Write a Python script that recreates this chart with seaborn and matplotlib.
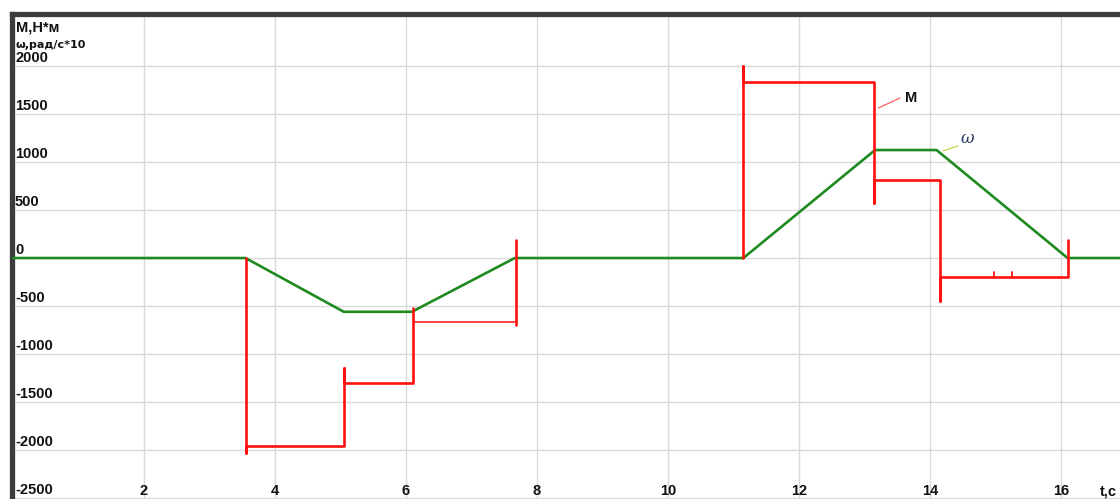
import matplotlib
matplotlib.use("Agg")
import matplotlib.pyplot as plt
import matplotlib.transforms as mtransforms
import pandas as pd
import seaborn as sns

# Angular speed ω (rad/s * 10) versus time t (s)
omega_t = [0.0, 3.55, 5.05, 6.09, 7.66, 11.15, 13.16, 14.10, 16.10, 16.90]
omega_v = [0, 0, -560, -560, 0, 0, 1125, 1125, 0, 0]

# Motor torque M (N*m): step profile, switching spikes included
m_brake_t = [3.55, 3.55, 3.55, 5.05, 5.05, 5.05, 5.05, 6.10, 6.10, 6.10]
m_brake_v = [0, -2030, -1960, -1960, -1960, -1146, -1302, -1302, -1302, -520]
m_low_t = [6.10, 7.68]
m_low_v = [-667, -667]
m_stop_t = [7.68, 7.68]
m_stop_v = [-698, 188]
m_run_t = [11.15, 11.15, 11.15, 13.15, 13.15, 13.15, 13.15, 14.15, 14.15,
           14.15, 14.15, 16.10, 16.10, 16.10]
m_run_v = [0, 2000, 1833, 1833, 1833, 573, 812, 812, 812, -448, -198, -198,
           -198, 188]
m_tick_t = [14.98, 15.25]
m_tick_lo = [-198, -198]
m_tick_hi = [-146, -146]

x_ticks = [2, 4, 6, 8, 10, 12, 14, 16]
y_ticks = [2000, 1500, 1000, 500, 0, -500, -1000, -1500, -2000, -2500]

sns.set_theme(style="white")
plt.rcParams["font.family"] = ["Liberation Sans", "DejaVu Sans"]

W, H = 1120, 499
fig = plt.figure(figsize=(W / 100, H / 100), dpi=100)
ax = fig.add_axes([12 / W, 0, 1 - 12 / W, (H - 14) / H])

ax.set_xlim(-0.015, 16.90)
ax.set_ylim(-2510, 2542)

# grid
for xv in x_ticks:
    ax.axvline(xv, color="#d9d9d9", lw=1.0, zorder=0)
for yv in y_ticks:
    ax.axhline(yv, color="#d9d9d9", lw=1.0, zorder=0)

green = "#1f8a1f"
red = "#ff1010"

sns.lineplot(x=omega_t, y=omega_v, sort=False, estimator=None, color=green,
             lw=1.9, ax=ax, zorder=3)
for tt, vv, w in [(m_brake_t, m_brake_v, 1.9), (m_low_t, m_low_v, 1.1),
                  (m_stop_t, m_stop_v, 1.9), (m_run_t, m_run_v, 1.9)]:
    sns.lineplot(x=tt, y=vv, sort=False, estimator=None, color=red, lw=w,
                 ax=ax, zorder=4)
for tt, lo, hi in zip(m_tick_t, m_tick_lo, m_tick_hi):
    sns.lineplot(x=[tt, tt], y=[lo, hi], sort=False, estimator=None,
                 color=red, lw=1.3, ax=ax, zorder=4)

# frame: heavy dark edge on top and left only
for side in ["right", "bottom"]:
    ax.spines[side].set_visible(False)
for side in ["top", "left"]:
    ax.spines[side].set_color("#3c3c3c")
    ax.spines[side].set_linewidth(3.8)
ax.set_xticks([])
ax.set_yticks([])
ax.set_xlabel("")
ax.set_ylabel("")

# value labels placed inside the plot, Excel style
ylab_tr = mtransforms.offset_copy(ax.get_yaxis_transform(), fig=fig,
                                  x=3, y=4, units="dots")
for yv in y_ticks:
    ax.text(0, yv, f"{yv}", transform=ylab_tr, ha="left", va="baseline",
            fontsize=10.5, fontweight="bold", color="#111111")

xlab_tr = mtransforms.offset_copy(ax.get_xaxis_transform(), fig=fig,
                                  x=0, y=4, units="dots")
for xv in x_ticks:
    ax.text(xv, 0, f"{xv}", transform=xlab_tr, ha="center", va="baseline",
            fontsize=10.5, fontweight="bold", color="#111111")
ax.text(16.85, 0, "t,c", transform=xlab_tr, ha="right", va="baseline",
        fontsize=10.5, fontweight="bold", color="#111111")

# axis titles
ax.text(4 / (W - 12), 1 - 17 / (H - 14), "М,Н*м", transform=ax.transAxes,
        ha="left", va="baseline", fontsize=10.5, fontweight="bold",
        color="#111111")
ax.text(4 / (W - 12), 1 - 34 / (H - 14), "ω,рад/с*10", transform=ax.transAxes,
        ha="left", va="baseline", fontsize=8, fontweight="bold",
        color="#111111", family=["DejaVu Sans"])

# curve captions with leader lines
ax.plot([13.21, 13.54], [1562, 1667], color="#ff5050", lw=0.8, zorder=5)
ax.text(13.62, 1667, "M", ha="left", va="center", fontsize=10.5,
        fontweight="bold", color="#111111")
ax.plot([14.20, 14.43], [1115, 1170], color="#b8d435", lw=0.8, zorder=5)
ax.text(14.47, 1240, "ω", ha="left", va="center", fontsize=12,
        style="italic", color="#243a5e", family=["DejaVu Serif"])

fig.savefig("out.png", dpi=100)
